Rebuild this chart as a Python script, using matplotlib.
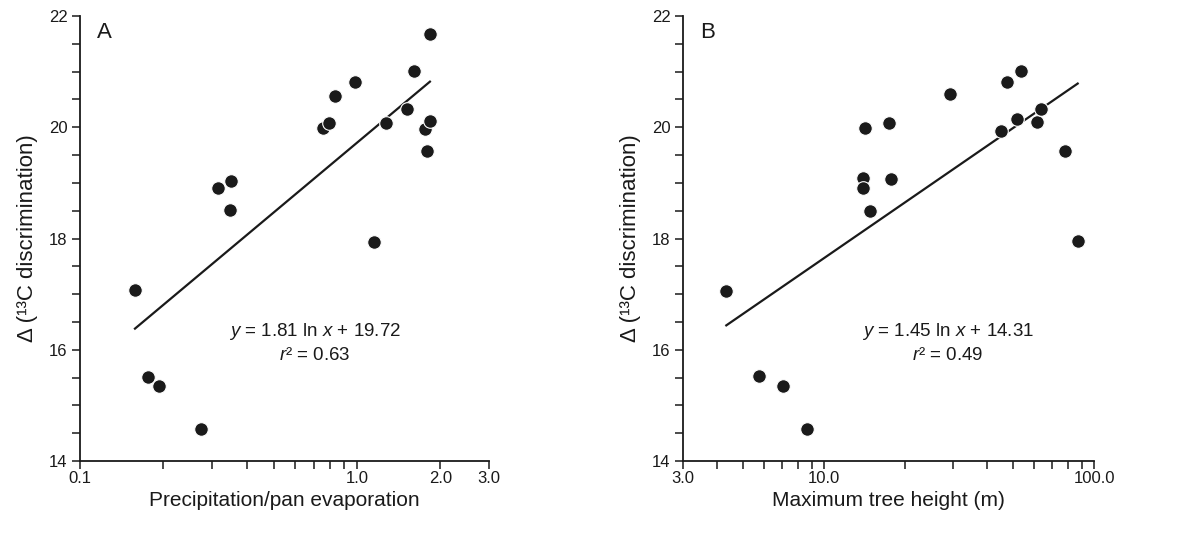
import numpy as np
import matplotlib
matplotlib.use("Agg")
import matplotlib.pyplot as plt

plt.rcParams['font.family'] = ['Liberation Sans', 'DejaVu Sans']
plt.rcParams['mathtext.fontset'] = 'custom'
plt.rcParams['mathtext.rm'] = 'Liberation Sans'
plt.rcParams['mathtext.it'] = 'Liberation Sans:italic'

# panel A: precipitation / pan evaporation
ratio_a = [0.158, 0.176, 0.1935, 0.274, 0.316, 0.352, 0.347, 0.754, 0.792, 0.835,
           0.986, 1.158, 1.273, 1.52, 1.611, 1.761, 1.796, 1.831, 1.836]
delta_a = [17.08, 15.51, 15.35, 14.57, 18.91, 19.04, 18.51, 19.98, 20.07, 20.56,
           20.81, 17.93, 20.07, 20.32, 21.01, 19.96, 19.57, 20.11, 21.67]
slope_a, icpt_a, r2_a = 1.81, 19.72, 0.63
xticks_a = [0.1, 0.2, 0.3, 0.4, 0.5, 0.6, 0.7, 0.8, 0.9, 1.0, 2.0, 3.0]
xlabels_a = ['0.1', '', '', '', '', '', '', '', '', '1.0', '2.0', '3.0']

# panel B: maximum tree height
height_b = [4.34, 5.73, 7.05, 8.61, 14.2, 13.9, 13.9, 14.75, 17.4, 17.7,
            29.3, 45.4, 47.6, 51.9, 53.8, 61.3, 63.8, 78.1, 87.0]
delta_b = [17.05, 15.53, 15.35, 14.57, 19.98, 19.08, 18.90, 18.50, 20.07, 19.07,
           20.59, 19.94, 20.81, 20.15, 21.01, 20.10, 20.32, 19.57, 17.96]
slope_b, icpt_b, r2_b = 1.45, 14.31, 0.49
xticks_b = [3, 4, 5, 6, 7, 8, 9, 10, 20, 30, 40, 50, 60, 70, 80, 90, 100]
xlabels_b = ['3.0', '', '', '', '', '', '', '10.0', '', '', '', '', '', '', '', '', '100.0']

yticks = [14, 16, 18, 20, 22]
ylabel = u'\u0394 (\u00b9\u00b3C discrimination)'
ink = '#1a1a1a'

fig = plt.figure(figsize=(11.92, 5.5), dpi=100)
ax_a = fig.add_axes([0.0671, 0.1618, 0.3431, 0.8091])
ax_b = fig.add_axes([0.5730, 0.1618, 0.3448, 0.8091])


def panel(ax, x, y, slope, icpt, r2, xticks, xlabels, xlim, xlabel, tag, eqx):
    ax.plot(x, y, 'o', color=ink, markersize=9.8, markeredgecolor='white',
            markeredgewidth=0.8, zorder=3)
    xs = np.linspace(min(x), max(x), 100)
    ax.plot(xs, slope * np.log(xs) + icpt, color=ink, lw=1.6, zorder=2)

    ax.set_xscale('log')
    ax.set_xlim(*xlim)
    ax.set_ylim(14, 22)
    ax.set_xticks(xticks)
    ax.set_xticklabels(xlabels)
    ax.xaxis.set_minor_locator(matplotlib.ticker.NullLocator())
    ax.set_yticks(yticks)
    ax.set_yticks(np.arange(14, 22.01, 0.5), minor=True)
    ax.tick_params(which='both', direction='out', length=6, width=1.1,
                   color=ink, labelcolor=ink, labelsize=12)
    ax.tick_params(axis='x', pad=1.5)
    ax.tick_params(axis='y', pad=3)
    for s in ['top', 'right']:
        ax.spines[s].set_visible(False)
    for s in ['left', 'bottom']:
        ax.spines[s].set_linewidth(1.3)
        ax.spines[s].set_color(ink)

    ax.set_xlabel(xlabel, fontsize=15, color=ink, labelpad=3)
    ax.set_ylabel(ylabel, fontsize=16, color=ink, labelpad=8)
    ax.text(0.041, 0.962, tag, transform=ax.transAxes, fontsize=16,
            color=ink, ha='left', va='center')
    ax.text(eqx, 0.292, r'$y$ = %.2f ln $x$ + %.2f' % (slope, icpt),
            transform=ax.transAxes, fontsize=13.5, color=ink, ha='center', va='center')
    ax.text(eqx, 0.238, u'$r$\u00b2 = %.2f' % r2,
            transform=ax.transAxes, fontsize=13.5, color=ink, ha='center', va='center')


panel(ax_a, ratio_a, delta_a, slope_a, icpt_a, r2_a, xticks_a, xlabels_a,
      (0.1, 3.0), 'Precipitation/pan evaporation', 'A', 0.575)
panel(ax_b, height_b, delta_b, slope_b, icpt_b, r2_b, xticks_b, xlabels_b,
      (3.0, 100.0), 'Maximum tree height (m)', 'B', 0.645)

fig.savefig('out.png', dpi=100)
